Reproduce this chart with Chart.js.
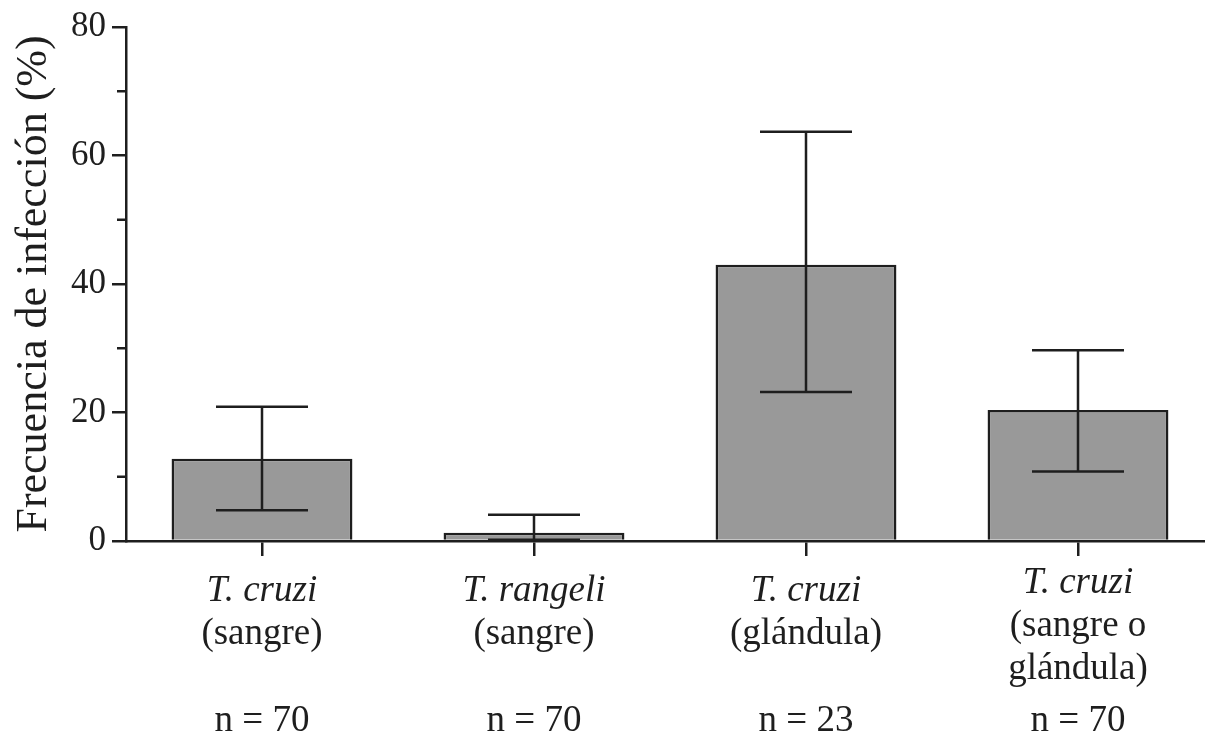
<!DOCTYPE html>
<html>
<head>
<meta charset="utf-8">
<script src="https://cdn.jsdelivr.net/npm/chart.js@4.4.0/dist/chart.umd.min.js"></script>
<style>
  html, body { margin: 0; padding: 0; background: #fff; overflow: hidden; }
  #wrap { width: 1214px; height: 735px; }
</style>
</head>
<body>
<div id="wrap"><canvas id="chart" width="1214" height="735"></canvas></div>
<script>
// data
const species = ['T. cruzi', 'T. rangeli', 'T. cruzi', 'T. cruzi'];
const sources = [['(sangre)'], ['(sangre)'], ['(glándula)'], ['(sangre o', 'glándula)']];
const sampleSizes = [70, 70, 23, 70];
const frequency = [12.8, 1.3, 43.0, 20.4];
const ciUpper = [20.9, 4.1, 63.7, 29.7];
const ciLower = [4.8, 0.2, 23.2, 10.8];
const yTicks = [0, 20, 40, 60, 80];
const yMinorTicks = [10, 30, 50, 70];

const ink = '#1e1e1e';
const serif = '"Liberation Serif", "Times New Roman", serif';
const lw = 2.5;

// error bars (whiskers with caps)
const errorBars = {
  id: 'errorBars',
  afterDatasetsDraw(chart) {
    const { ctx, scales: { y } } = chart;
    const meta = chart.getDatasetMeta(0);
    ctx.save();
    ctx.strokeStyle = ink;
    ctx.lineWidth = lw;
    meta.data.forEach((bar, i) => {
      const x = bar.x;
      const top = y.getPixelForValue(ciUpper[i]);
      const bot = y.getPixelForValue(ciLower[i]);
      ctx.beginPath();
      ctx.moveTo(x, top);
      ctx.lineTo(x, bot);
      ctx.moveTo(x - 46, top);
      ctx.lineTo(x + 46, top);
      ctx.moveTo(x - 46, bot);
      ctx.lineTo(x + 46, bot);
      ctx.stroke();
    });
    ctx.restore();
  }
};

// minor y ticks + category labels with italic species names
const axisExtras = {
  id: 'axisExtras',
  afterDraw(chart) {
    const { ctx, chartArea, scales: { x, y } } = chart;
    ctx.save();
    ctx.strokeStyle = ink;
    ctx.lineWidth = lw;
    yMinorTicks.forEach(v => {
      const py = y.getPixelForValue(v);
      ctx.beginPath();
      ctx.moveTo(chartArea.left - 9, py);
      ctx.lineTo(chartArea.left, py);
      ctx.stroke();
    });

    ctx.fillStyle = ink;
    ctx.textAlign = 'center';
    ctx.textBaseline = 'alphabetic';
    species.forEach((name, i) => {
      const px = x.getPixelForValue(i);
      const extra = sources[i].length - 1;
      let base = chartArea.bottom + 60 - extra * 8;
      ctx.font = 'italic 37px ' + serif;
      ctx.fillText(name, px, base);
      ctx.font = '37px ' + serif;
      sources[i].forEach(line => {
        base += 43;
        ctx.fillText(line, px, base);
      });
      ctx.fillText('n = ' + sampleSizes[i], px, chartArea.bottom + 190);
    });
    ctx.restore();
  }
};

new Chart(document.getElementById('chart'), {
  type: 'bar',
  data: {
    labels: species,
    datasets: [{
      data: frequency,
      backgroundColor: '#999999',
      borderColor: ink,
      borderWidth: lw,
      barPercentage: 0.665,
      categoryPercentage: 1
    }]
  },
  options: {
    responsive: false,
    animation: false,
    devicePixelRatio: 1,
    layout: { padding: { top: 24, right: 0, bottom: 0, left: 0 } },
    plugins: { legend: { display: false }, tooltip: { enabled: false } },
    scales: {
      x: {
        grid: { drawOnChartArea: false, offset: false, tickLength: 15, tickColor: ink, lineWidth: lw },
        border: { color: ink, width: lw },
        ticks: { display: false },
        afterFit(scale) { scale.height = 194; }
      },
      y: {
        min: 0,
        max: 80,
        afterBuildTicks(scale) { scale.ticks = yTicks.map(v => ({ value: v })); },
        grid: { drawOnChartArea: false, tickLength: 14, tickColor: ink, lineWidth: lw },
        border: { color: ink, width: lw },
        ticks: { color: ink, padding: 6, font: { family: serif, size: 35 } },
        title: {
          display: true,
          text: 'Frecuencia de infección (%)',
          color: ink,
          font: { family: serif, size: 44, lineHeight: 1.2 },
          padding: { top: 8, bottom: 0 }
        },
        afterFit(scale) { scale.width = 126; }
      }
    }
  },
  plugins: [errorBars, axisExtras]
});
</script>
</body>
</html>
